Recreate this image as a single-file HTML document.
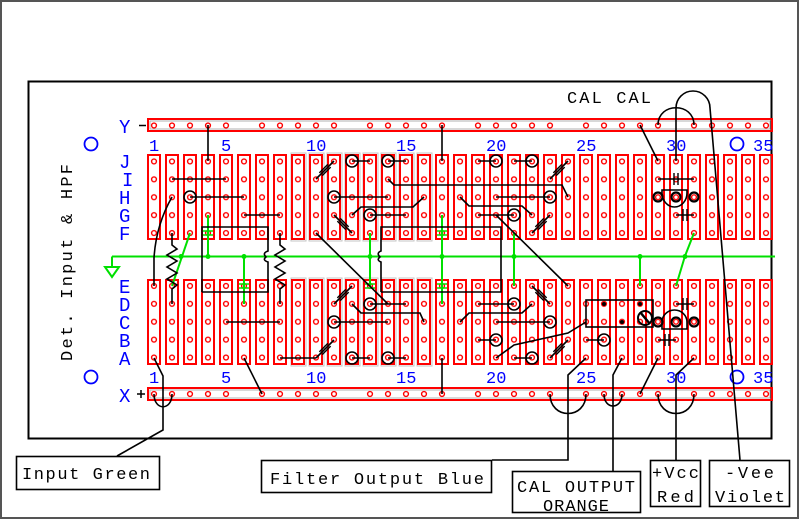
<!DOCTYPE html>
<html><head><meta charset="utf-8"><style>
html,body{margin:0;padding:0;background:#fff}
svg{display:block}
text{font-family:"Liberation Mono","DejaVu Sans Mono",monospace}
.b{fill:#0000ff;font-family:"Liberation Sans",sans-serif;font-size:17px}
</style></head><body>
<svg width="800" height="520" viewBox="0 0 800 520" xmlns="http://www.w3.org/2000/svg">
<defs>
<pattern id="strip" x="145" y="0" width="18" height="520" patternUnits="userSpaceOnUse">
<rect x="3" y="0" width="12" height="520" fill="none" stroke="#ff0000" stroke-width="2"/>
</pattern>
<pattern id="holesU" x="145" y="152.5" width="18" height="17.9" patternUnits="userSpaceOnUse">
<circle cx="9" cy="8.95" r="2.4" fill="#fff" stroke="#ff0000" stroke-width="1.4"/>
</pattern>
<pattern id="holesL" x="145" y="277" width="18" height="17.9" patternUnits="userSpaceOnUse">
<circle cx="9" cy="8.95" r="2.4" fill="#fff" stroke="#ff0000" stroke-width="1.4"/>
</pattern>
<g id="rh">
<circle cx="9" cy="10" r="2.4" fill="#fff" stroke="#ff0000" stroke-width="1.4"/>
<circle cx="27" cy="10" r="2.4" fill="#fff" stroke="#ff0000" stroke-width="1.4"/>
<circle cx="45" cy="10" r="2.4" fill="#fff" stroke="#ff0000" stroke-width="1.4"/>
<circle cx="63" cy="10" r="2.4" fill="#fff" stroke="#ff0000" stroke-width="1.4"/>
<circle cx="81" cy="10" r="2.4" fill="#fff" stroke="#ff0000" stroke-width="1.4"/>
</g>
<pattern id="railY" x="145" y="115.5" width="108" height="20" patternUnits="userSpaceOnUse"><use href="#rh"/></pattern>
<pattern id="railX" x="145" y="384" width="108" height="20" patternUnits="userSpaceOnUse"><use href="#rh"/></pattern>
</defs>
<rect x="1" y="1" width="797" height="517" fill="none" stroke="#555" stroke-width="2"/>
<rect x="28.5" y="81.5" width="743" height="357" fill="none" stroke="#000" stroke-width="2"/>

<!-- grey shadows cols 9-16 -->
<g fill="none" stroke="#c4c4c4" stroke-width="1">
<rect x="291" y="153" width="15" height="88"/><rect x="309" y="153" width="15" height="88"/><rect x="327" y="153" width="15" height="88"/><rect x="345" y="153" width="15" height="88"/><rect x="363" y="153" width="15" height="88"/><rect x="381" y="153" width="15" height="88"/><rect x="399" y="153" width="15" height="88"/><rect x="417" y="153" width="15" height="88"/>
<rect x="291" y="278" width="15" height="88"/><rect x="309" y="278" width="15" height="88"/><rect x="327" y="278" width="15" height="88"/><rect x="345" y="278" width="15" height="88"/><rect x="363" y="278" width="15" height="88"/><rect x="381" y="278" width="15" height="88"/><rect x="399" y="278" width="15" height="88"/><rect x="417" y="278" width="15" height="88"/>
</g>
<!-- strips -->
<rect x="145" y="155" width="630" height="84" fill="url(#strip)"/>
<rect x="145" y="280" width="630" height="84" fill="url(#strip)"/>
<g stroke="#ff0000" stroke-width="2" fill="none">
<path id="edge" d="M147 155h14M165 155h14M183 155h14M201 155h14M219 155h14M237 155h14M255 155h14M273 155h14M291 155h14M309 155h14M327 155h14M345 155h14M363 155h14M381 155h14M399 155h14M417 155h14M435 155h14M453 155h14M471 155h14M489 155h14M507 155h14M525 155h14M543 155h14M561 155h14M579 155h14M597 155h14M615 155h14M633 155h14M651 155h14M669 155h14M687 155h14M705 155h14M723 155h14M741 155h14M759 155h14"/>
<use href="#edge" transform="translate(0,84)"/>
<use href="#edge" transform="translate(0,125)"/>
<use href="#edge" transform="translate(0,209)"/>
</g>
<!-- rails -->
<rect x="148" y="119" width="624" height="12" fill="none" stroke="#ff0000" stroke-width="2"/>
<rect x="150" y="121" width="620" height="8" fill="none" stroke="#b0b0b0" stroke-width="1"/>
<rect x="148" y="388" width="624" height="12" fill="none" stroke="#ff0000" stroke-width="2"/>
<rect x="150" y="390" width="620" height="8" fill="none" stroke="#b0b0b0" stroke-width="1"/>
<rect x="145" y="115.5" width="630" height="20" fill="url(#railY)"/>
<rect x="145" y="384" width="630" height="20" fill="url(#railX)"/>
<!-- holes -->
<rect x="145" y="152.5" width="630" height="89.5" fill="url(#holesU)"/>
<rect x="145" y="277" width="630" height="89.5" fill="url(#holesL)"/>

<!-- labels blue -->
<g class="b">
<text x="119" y="133" font-size="19">Y</text>
<g font-size="19">
<text x="119" y="168">J</text><text x="122" y="186">I</text><text x="119" y="204">H</text><text x="119" y="222">G</text><text x="119" y="240">F</text>
<text x="119" y="293">E</text><text x="119" y="311">D</text><text x="119" y="329">C</text><text x="119" y="347">B</text><text x="119" y="365">A</text>
<text x="119" y="402">X</text>
</g>
<text x="149" y="151">1</text><text x="221" y="151">5</text><text x="306" y="151">10</text><text x="396" y="151">15</text><text x="486" y="151">20</text><text x="576" y="151">25</text><text x="666" y="151">30</text><text x="753" y="151">35</text>
<text x="149" y="383">1</text><text x="221" y="383">5</text><text x="306" y="383">10</text><text x="396" y="383">15</text><text x="486" y="383">20</text><text x="576" y="383">25</text><text x="666" y="383">30</text><text x="753" y="383">35</text>
</g>
<g fill="none" stroke="#0000ff" stroke-width="1.8">
<circle cx="91" cy="144" r="6.5"/><circle cx="91" cy="377" r="6.5"/><circle cx="737" cy="144" r="6.5"/><circle cx="737" cy="377" r="6.5"/>
</g>
<path d="M139 125.5h7M137 394h8M141 390v8" stroke="#000" stroke-width="1.5"/>
<text transform="translate(72,361) rotate(-90)" font-size="17" textLength="197" lengthAdjust="spacing">Det.  Input &amp; HPF</text>
<text x="567" y="103" font-size="17" textLength="84" lengthAdjust="spacing">CAL  CAL</text>

<!-- green -->
<g stroke="#00e000" stroke-width="2" fill="none">
<path d="M112 256.5H775M112 256.5V267"/>
<path d="M105 267H119L112 277Z"/>
<path d="M190 233L172 286"/>
<path d="M208 215V256"/>
<path d="M244 256V304"/>
<path d="M370 233V286"/>
<path d="M442 215V304"/>
<path d="M514 233V286"/>
<path d="M640 256V286"/>
<path d="M694 233L685 256L676 286"/>
<path d="M203 231h10M203 235h10M239 284h10M239 288h10M437 231h10M437 235h10M437 284h10M437 288h10M365 284h10M365 288h10" stroke-width="1.5"/>
</g>
<g fill="#00e000">
<circle cx="181" cy="256.5" r="2.5"/><circle cx="208" cy="256.5" r="2.5"/><circle cx="244" cy="256.5" r="2.5"/><circle cx="370" cy="256.5" r="2.5"/><circle cx="442" cy="256.5" r="2.5"/><circle cx="514" cy="256.5" r="2.5"/><circle cx="640" cy="256.5" r="2.5"/><circle cx="685" cy="256.5" r="2.5"/>
</g>

<!-- black wiring -->
<g stroke="#000" stroke-width="1.6" fill="none">
<path d="M208 125V161"/>
<path d="M172 179H226"/>
<path d="M190 197H244"/>
<path d="M244 215H280"/>
<path d="M172 197Q156 225 154 258V286"/>
<path d="M172 233V245L177 249L167 255L177 261L167 267L177 273L167 279L177 285L172 289V304"/>
<path d="M280 233V245L285 249L275 255L285 261L275 267L285 273L275 279L285 285L280 289V304"/>
<path d="M202 292V227H268V251Q262 253 266 257Q262 260 268 262V292H202"/>
<path d="M226 322H280"/>
<path d="M280 358H316"/>
<path d="M154 358L163 376V430L117 456"/>
<path d="M154 394C154 411 172 411 172 394"/>
<path d="M244 358L262 394"/>
<path d="M316 179L334 161"/>
<path d="M352 161H370M388 161H406"/>
<path d="M442 125V161"/>
<path d="M334 197H388"/>
<path d="M334 215L352 233"/>
<path d="M352 215L361 207H413L424 197"/>
<path d="M370 215H406"/>
<path d="M388 179L394 185H562L568 197"/>
<path d="M316 233L388 304"/>
<path d="M381 292V262Q376 260 380 257Q376 253 381 251V227H501V292H381"/>
<path d="M478 161H496M514 161H532"/>
<path d="M550 179L568 161"/>
<path d="M496 197H550"/>
<path d="M460 197L469 206H522L532 215"/>
<path d="M532 233L550 215"/>
<path d="M478 215H514"/>
<path d="M496 215L568 286"/>
<path d="M334 304L352 286"/>
<path d="M352 304L361 313H420L424 322"/>
<path d="M334 322H388"/>
<path d="M370 304H406"/>
<path d="M352 358H370M388 358H406"/>
<path d="M442 358V394"/>
<path d="M460 322L469 313H522L532 304"/>
<path d="M478 304H514"/>
<path d="M496 322H550"/>
<path d="M478 340H496"/>
<path d="M514 358H532"/>
<path d="M496 358L514 345L568 333L586 322"/>
<path d="M550 358L568 340"/>
<path d="M532 286L550 304"/>
<rect x="586" y="300" width="67" height="27"/>
<path d="M586 340H604"/>
<path d="M586 358L568 375V460H492"/>
<path d="M622 358L613 375V472"/>
<path d="M658 358L640 394"/>
<path d="M694 358L676 375V460"/>
<path d="M662 329H687V322A12.5 12 0 0 0 662 322Z"/>
<path d="M676 304H694M658 340H676"/>
<path d="M662 190H687V193A12.5 14 0 0 1 662 193Z"/>
<path d="M658 179H694M676 215H694"/>
<path d="M640 125L658 161"/>
<path d="M658 125C658 102 694 102 694 125"/>
<path d="M676 161V108A17 17 0 0 1 710 108L740 460"/>
<path d="M550 394C550 420 586 420 586 394"/>
<path d="M604 394C604 410 622 410 622 394"/>
<path d="M658 394C658 420 694 420 694 394"/>
</g>
<!-- caps -->
<g stroke="#000" stroke-width="1.4">
<g transform="translate(325,170) rotate(45)"><path d="M-2 -6V6M2 -6V6"/></g>
<g transform="translate(343,224) rotate(-45)"><path d="M-2 -6V6M2 -6V6"/></g>
<g transform="translate(559,170) rotate(45)"><path d="M-2 -6V6M2 -6V6"/></g>
<g transform="translate(541,224) rotate(45)"><path d="M-2 -6V6M2 -6V6"/></g>
<g transform="translate(343,295) rotate(45)"><path d="M-2 -6V6M2 -6V6"/></g>
<g transform="translate(541,295) rotate(-45)"><path d="M-2 -6V6M2 -6V6"/></g>
<g transform="translate(559,349) rotate(45)"><path d="M-2 -6V6M2 -6V6"/></g>
<g transform="translate(325,349) rotate(45)"><path d="M-2 -6V6M2 -6V6"/></g>
<path d="M674 173V185M678 173V185M683 209V221M687 209V221M683 298V310M687 298V310M665 334V346M669 334V346"/>
</g>
<path d="M316 358L334 340" stroke="#000" stroke-width="1.6"/>
<!-- rings -->
<g fill="none" stroke="#000" stroke-width="1.6">
<circle cx="190" cy="197" r="6"/><circle cx="352" cy="161" r="6"/><circle cx="388" cy="161" r="6"/><circle cx="334" cy="197" r="6"/><circle cx="370" cy="215" r="6"/>
<circle cx="496" cy="161" r="6"/><circle cx="532" cy="161" r="6"/><circle cx="550" cy="197" r="6"/><circle cx="514" cy="215" r="6"/>
<circle cx="334" cy="322" r="6"/><circle cx="370" cy="304" r="6"/><circle cx="352" cy="358" r="6"/><circle cx="388" cy="358" r="6"/>
<circle cx="514" cy="304" r="6"/><circle cx="550" cy="322" r="6"/><circle cx="496" cy="340" r="6"/><circle cx="532" cy="358" r="6"/><circle cx="604" cy="340" r="6"/>
<circle cx="658" cy="197" r="4.5" stroke-width="2.2"/><circle cx="676" cy="197" r="4.5" stroke-width="2.2"/><circle cx="694" cy="197" r="4.5" stroke-width="2.2"/>
<circle cx="658" cy="322" r="4.5" stroke-width="2.2"/><circle cx="676" cy="322" r="4.5" stroke-width="2.2"/><circle cx="694" cy="322" r="4.5" stroke-width="2.2"/>
<circle cx="645" cy="318" r="7" stroke-width="2"/>
</g>
<path d="M640 312L650 324" stroke="#000" stroke-width="2.5"/>
<g fill="#000">
<circle cx="604" cy="304" r="2"/><circle cx="640" cy="304" r="2"/><circle cx="622" cy="322" r="2"/>
</g>

<!-- label boxes -->
<g fill="#fff" stroke="#000" stroke-width="1.6">
<rect x="16.5" y="456.5" width="143" height="33"/>
<rect x="261.5" y="460.5" width="230" height="32"/>
<rect x="512.5" y="471.5" width="128" height="41"/>
<rect x="650.5" y="460.5" width="50" height="46"/>
<rect x="709.5" y="460.5" width="80" height="46"/>
</g>
<g font-size="17">
<text x="22" y="479" textLength="128" lengthAdjust="spacing">Input Green</text>
<text x="270" y="484" textLength="214" lengthAdjust="spacing">Filter Output Blue</text>
<text x="517" y="492" textLength="118" lengthAdjust="spacing">CAL OUTPUT</text>
<text x="543" y="511" textLength="66" lengthAdjust="spacing">ORANGE</text>
<text x="652" y="478" textLength="47" lengthAdjust="spacing">+Vcc</text>
<text x="657" y="502" textLength="37" lengthAdjust="spacing">Red</text>
<text x="725" y="478" textLength="49" lengthAdjust="spacing">-Vee</text>
<text x="715" y="502" textLength="70" lengthAdjust="spacing">Violet</text>
</g>
</svg>
</body></html>
